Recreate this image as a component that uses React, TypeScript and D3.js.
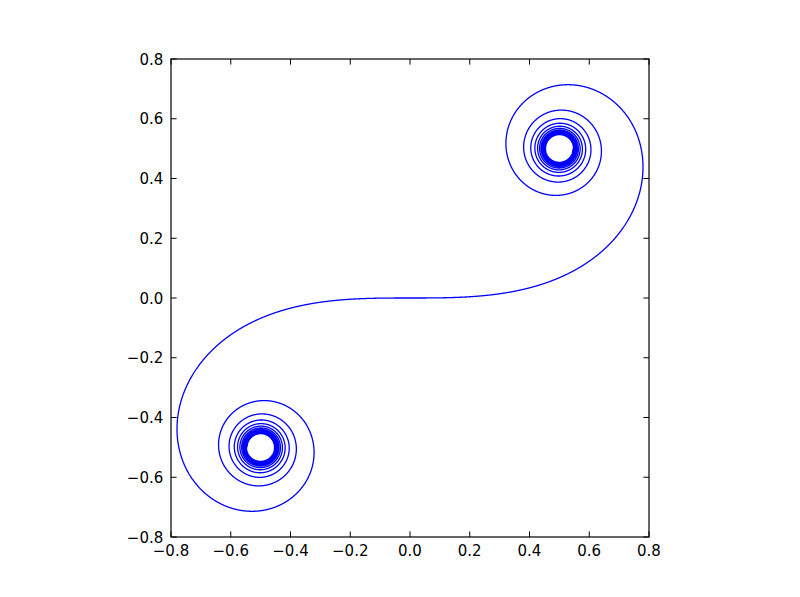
import React from "react";
import * as d3 from "d3";

// Parameter range of the Cornu (Euler) spiral
const T_RANGE = [-7, 7];
const SAMPLES = [14000];
const X_TICKS = [-0.8, -0.6, -0.4, -0.2, 0.0, 0.2, 0.4, 0.6, 0.8];
const Y_TICKS = [-0.8, -0.6, -0.4, -0.2, 0.0, 0.2, 0.4, 0.6, 0.8];
const DOMAIN = [-0.8, 0.8];

function spiralPoints(): [number, number][] {
  const [t0, t1] = T_RANGE;
  const n = SAMPLES[0];
  const h = (t1 - t0) / n;
  const f = (u: number): [number, number] => [Math.cos((Math.PI * u * u) / 2), Math.sin((Math.PI * u * u) / 2)];
  let cx = 0, cy = 0;
  const m = 20000;
  const hh = t0 / m;
  for (let i = 0; i < m; i++) {
    const a = i * hh, b = (i + 1) * hh, c = (a + b) / 2;
    const fa = f(a), fb = f(b), fc = f(c);
    cx += (hh / 6) * (fa[0] + 4 * fc[0] + fb[0]);
    cy += (hh / 6) * (fa[1] + 4 * fc[1] + fb[1]);
  }
  const pts: [number, number][] = [[cx, cy]];
  for (let i = 0; i < n; i++) {
    const a = t0 + i * h, b = a + h, c = (a + b) / 2;
    const fa = f(a), fb = f(b), fc = f(c);
    cx += (h / 6) * (fa[0] + 4 * fc[0] + fb[0]);
    cy += (h / 6) * (fa[1] + 4 * fc[1] + fb[1]);
    pts.push([cx, cy]);
  }
  return pts;
}

export default function App() {
  const W = 800, H = 597;
  const left = 171, top = 59, size = 478;
  const x = d3.scaleLinear().domain(DOMAIN).range([left, left + size]);
  const y = d3.scaleLinear().domain(DOMAIN).range([top + size, top]);
  const pts = spiralPoints();
  const line = d3.line<[number, number]>().x((d) => x(d[0])).y((d) => y(d[1]));
  const tickLen = 5.6;
  const fmt = (v: number) => v.toFixed(1).replace("-", "\u2212");
  const font = "DejaVu Sans";
  const fs = 15;
  return (
    <svg width={W} height={H} style={{ position: "absolute", left: 0, top: 0, background: "#fff" }}>
      <rect x={0} y={0} width={W} height={H} fill="#fff" />
      <clipPath id="clip">
        <rect x={left} y={top} width={size} height={size} />
      </clipPath>
      <path d={line(pts) || ""} fill="none" stroke="#0000ff" strokeWidth={1.3} clipPath="url(#clip)" />
      <rect x={left} y={top} width={size} height={size} fill="none" stroke="#000" strokeWidth={1.2} />
      {X_TICKS.map((v) => (
        <g key={"x" + v}>
          <line x1={x(v)} x2={x(v)} y1={top + size} y2={top + size - tickLen} stroke="#000" strokeWidth={1} />
          <line x1={x(v)} x2={x(v)} y1={top} y2={top + tickLen} stroke="#000" strokeWidth={1} />
          <text x={x(v)} y={top + size + 19} textAnchor="middle" fontFamily={font} fontSize={fs} fill="#000">
            {fmt(v)}
          </text>
        </g>
      ))}
      {Y_TICKS.map((v) => (
        <g key={"y" + v}>
          <line x1={left} x2={left + tickLen} y1={y(v)} y2={y(v)} stroke="#000" strokeWidth={1} />
          <line x1={left + size} x2={left + size - tickLen} y1={y(v)} y2={y(v)} stroke="#000" strokeWidth={1} />
          <text x={left - 7.7} y={y(v) + 5.6} textAnchor="end" fontFamily={font} fontSize={fs} fill="#000">
            {fmt(v)}
          </text>
        </g>
      ))}
    </svg>
  );
}
